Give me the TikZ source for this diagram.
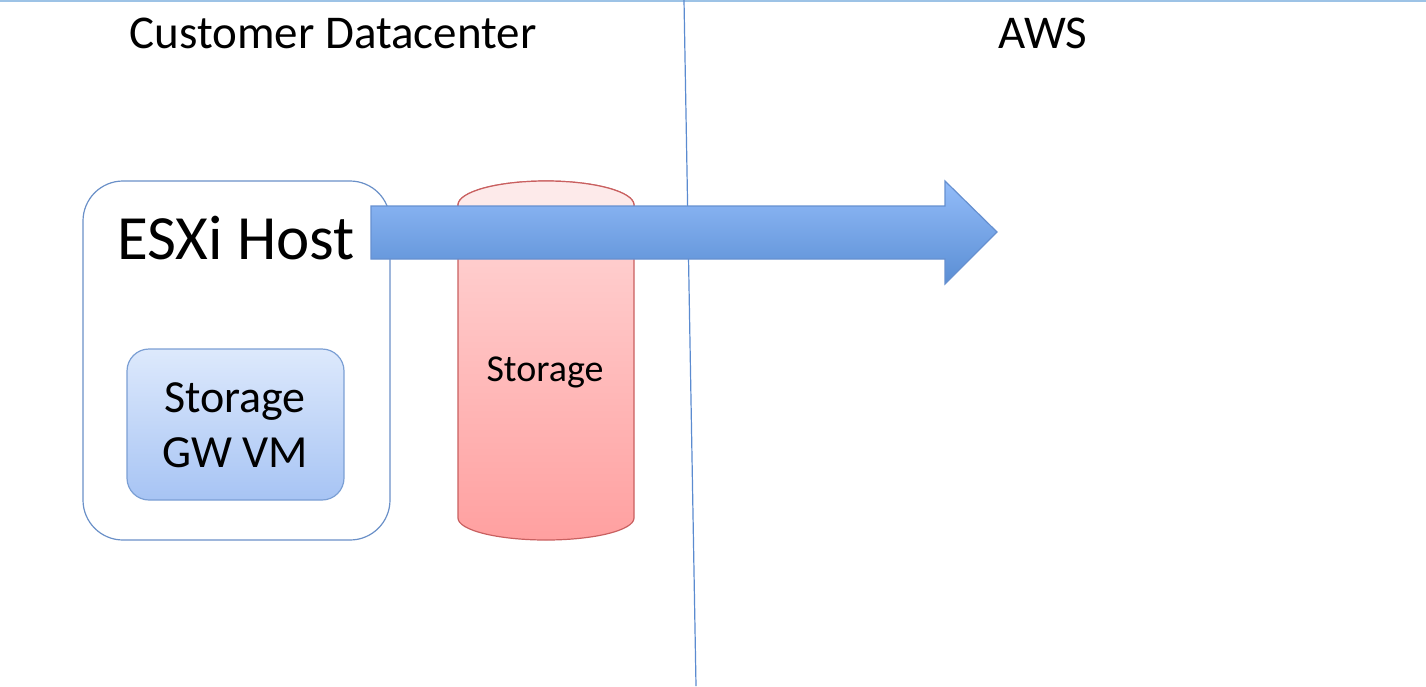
\documentclass[tikz,border=0pt]{standalone}
\usepackage{fontspec}
\setmainfont{Carlito}
\usetikzlibrary{calc}
\definecolor{topline}{HTML}{9DC3E6}
\definecolor{divline}{HTML}{5B8BD0}
\definecolor{hostborder}{HTML}{6A90C8}
\definecolor{vmtop}{HTML}{DDE9FC}
\definecolor{vmbot}{HTML}{A7C4F4}
\definecolor{vmborder}{HTML}{7B9FD4}
\definecolor{cyltop}{HTML}{FDEAEA}
\definecolor{cylbodytop}{HTML}{FFD9D9}
\definecolor{cylbodybot}{HTML}{FFA0A0}
\definecolor{cylborder}{HTML}{C96060}
\definecolor{arrtop}{HTML}{93BCF9}
\definecolor{arrbot}{HTML}{5A8ED4}
\definecolor{arrborder}{HTML}{6690D0}
\tikzset{
  title/.style={font=\fontsize{47}{56}\selectfont, inner sep=0pt},
  hostbox/.style={draw=hostborder, line width=1.2pt, rounded corners=40pt, fill=white},
  vmbox/.style={draw=vmborder, line width=1.2pt, rounded corners=22pt, top color=vmtop, bottom color=vmbot},
  cylbody/.style={draw=cylborder, line width=1.2pt, top color=cylbodytop, bottom color=cylbodybot},
  flowarrow/.style={draw=arrborder, line width=1.2pt, top color=arrtop, bottom color=arrbot},
}
\begin{document}
\begin{tikzpicture}[x=1pt,y=-1pt]
\useasboundingbox (0,0) rectangle (1426,686);
% lines
\coordinate (tl) at (0,1);
\coordinate (tr) at (1426,1);
\draw[topline, line width=1.5pt] (tl) -- (tr);
\coordinate (dtop) at (684,0);
\coordinate (dbot) at (696,686);
\draw[divline, line width=1.2pt] (dtop) -- (dbot);
% titles
\node[title] (cust) at (333,33) {Customer Datacenter};
\node[title] (aws) at (1043,33) {AWS};
% ESXi host
\path[hostbox] (83,181) rectangle (390,540);
\node[inner sep=0pt, font=\fontsize{63}{70}\selectfont] (esxi) at (236,238) {ESXi Host};
% GW VM
\path[vmbox] (127,349) rectangle (344,500);
\node[align=center, inner sep=0pt, font=\fontsize{46}{55}\selectfont] (vm) at (235,425) {Storage\\GW VM};
% cylinder
\path[cylbody] (458,205) -- (458,518) arc[start angle=180, end angle=0, x radius=88, y radius=22] -- (634,205) arc[start angle=0, end angle=-180, x radius=88, y radius=24] -- cycle;
\path[draw=cylborder, line width=1.2pt, fill=cyltop] (546,205) ellipse[x radius=88, y radius=24];
\node[inner sep=0pt, font=\fontsize{38}{45}\selectfont] (stor) at (545,372) {Storage};
% arrow
\path[flowarrow] (371,206) -- (945,206) -- (945,181) -- (997,232) -- (945,284) -- (945,259) -- (371,259) -- cycle;
\end{tikzpicture}
\end{document}
